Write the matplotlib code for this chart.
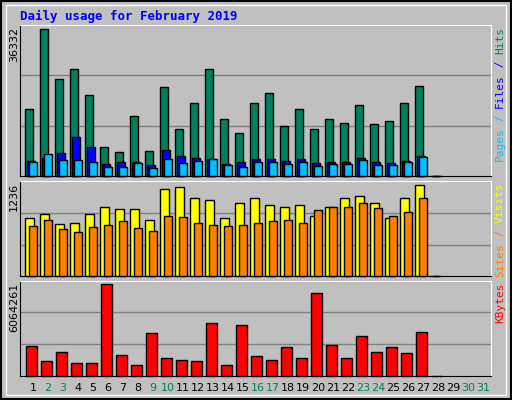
import matplotlib
matplotlib.use("Agg")
import matplotlib.pyplot as plt
from matplotlib.patches import Rectangle

days = list(range(1, 32))
hits = [16600,36332,24000,26470,20060,7230,6000,14880,6250,22030,11670,18080,26470,14140,10690,18080,20550,12410,16600,11670,14140,13150,17590,12900,13650,18080,22280,0]
files = [3700,4520,5750,9700,7230,3040,3530,3530,2790,6490,5010,4520,4270,3040,3530,4270,4270,3780,4270,3290,3530,3530,4520,3530,3290,3780,5010,0]
pages = [3530,5510,4030,4030,3530,2300,2300,3290,2060,4270,3290,3780,4270,2790,2300,3530,3530,3040,3530,2550,3040,3040,4030,2790,2790,3530,4770,0]
visits = [779,846,699,712,846,940,900,900,752,1169,1209,1061,1021,779,994,1048,967,940,967,806,927,1061,1088,994,779,1061,1236,0]
sites = [672,752,631,591,658,685,739,645,605,819,793,712,685,672,685,725,739,752,725,887,940,927,994,914,819,873,1061,0]
kbytes = [1947600,951700,1549200,818900,818900,6064261,1350100,686100,2810800,1150900,1018100,951700,3474700,686100,3341900,1283700,1018100,1881200,1150900,5466600,2014000,1150900,2611600,1549200,1881200,1482800,2877200,0]
weekend = [2,3,9,10,16,17,23,24,30,31]
title = "Daily usage for February 2019"

BG = "#C0C0C0"
fig = plt.figure(figsize=(5.12, 4.0), dpi=100, facecolor=BG)
fig.patches.append(Rectangle((0.002, 0.002), 0.996, 0.996, transform=fig.transFigure,
                             fill=False, edgecolor="black", lw=1.5))
fig.patches.append(Rectangle((0.012, 0.012), 0.976, 0.976, transform=fig.transFigure,
                             fill=False, edgecolor="white", lw=1))
fig.text(20/512, 1-16/400, title, color="#0000FF", fontsize=9, fontweight="bold",
         family="DejaVu Sans Mono", va="center", ha="left")

L, W = 20/512, 471/512
axes = [fig.add_axes([L, 0.559, W, 0.379]),
        fig.add_axes([L, 0.309, W, 0.239]),
        fig.add_axes([L, 0.061, W, 0.2375])]
n = len(hits)
x = list(range(1, n + 1))

def bars(ax, vals, off0, off1, color):
    w = off1 - off0
    bc = ax.bar([d + off0 for d in x], vals, width=w, align="edge", color=color,
                edgecolor="black", linewidth=1, zorder=3)
    for b in bc:
        b.set_clip_on(False)

bars(axes[0], hits, -0.51, -0.02, "#00805C")
bars(axes[0], files, -0.38, 0.13, "#0000FF")
bars(axes[0], pages, -0.25, 0.24, "#00C0FF")
bars(axes[1], visits, -0.51, 0.04, "#FFFF00")
bars(axes[1], sites, -0.25, 0.24, "#FF8000")
bars(axes[2], kbytes, -0.45, 0.24, "#FF0000")

ylims = [37400, 1286, 6310000]
maxes = [max(hits), max(visits), max(kbytes)]
for ax, yl, mx in zip(axes, ylims, maxes):
    ax.set_facecolor(BG)
    ax.set_xlim(0.133, 31.53)
    ax.set_ylim(0, yl)
    for f in (1/3, 2/3):
        ax.axhline(yl * f, color="#808080", lw=1, zorder=1)
    ax.set_xticks([]); ax.set_yticks([])
    for s in ("left", "bottom"):
        ax.spines[s].set_color("black")
    for s in ("top", "right"):
        ax.spines[s].set_color("white")
    pos = ax.get_position()
    fig.text(14/512, pos.y1 - 0.005, str(mx), rotation=90, ha="center", va="top",
             fontsize=8, color="black")

for d in days:
    fig.text((33 + 15*(d-1))/512, 1-388/400, str(d), ha="center", va="center",
             fontsize=8, color="#00805C" if d in weekend else "black")

def rlabel(ax, parts):
    pos = ax.get_position()
    y = pos.y1 - 0.005
    for txt, col in parts:
        fig.text(500/512, y, txt, rotation=90, ha="center", va="top", fontsize=8,
                 color=col, family="DejaVu Sans Mono")
        y -= len(txt) * 0.0168

rlabel(axes[0], [("Hits", "#00805C"), (" / ", "#0000FF"), ("Files", "#0000FF"),
                 (" / ", "#00C0FF"), ("Pages", "#00C0FF")])
rlabel(axes[1], [("Visits", "#FFFF00"), (" / ", "#FF8000"), ("Sites", "#FF8000")])
rlabel(axes[2], [("KBytes", "#FF0000")])

fig.savefig("out.png", dpi=100, facecolor=BG)
